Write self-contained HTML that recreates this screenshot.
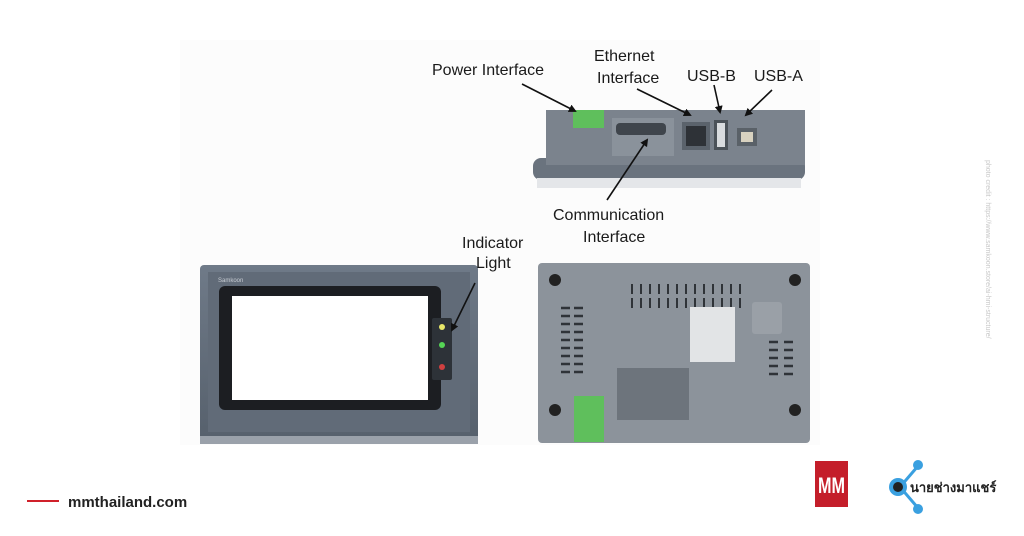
<!DOCTYPE html>
<html><head><meta charset="utf-8"><style>
html,body{margin:0;padding:0;background:#fff;}
svg{display:block}
text{font-family:"Liberation Sans",sans-serif;}
</style></head><body>
<svg width="1024" height="536" viewBox="0 0 1024 536" xmlns="http://www.w3.org/2000/svg">
<defs>
<marker id="ah" markerWidth="8" markerHeight="8" refX="6" refY="4" orient="auto" markerUnits="userSpaceOnUse"><path d="M0,0 L8,4 L0,8 z" fill="#111"/></marker>
<linearGradient id="bez" x1="0" y1="0" x2="0" y2="1"><stop offset="0" stop-color="#6f7a88"/><stop offset="1" stop-color="#56606c"/></linearGradient>
</defs>
<rect x="180" y="40" width="640" height="405" fill="#fcfcfc"/>
<!-- top device -->
<rect x="533" y="158" width="272" height="22" rx="8" fill="#6a737e"/>
<rect x="537" y="178" width="264" height="10" fill="#e4e6e9"/>
<rect x="546" y="110" width="222" height="55" fill="#7b838d"/>
<rect x="760" y="110" width="45" height="55" fill="#7b838d"/>
<rect x="612" y="118" width="62" height="38" fill="#8a929b"/>
<rect x="616" y="123" width="50" height="12" rx="4" fill="#3f454c"/>
<rect x="573" y="110" width="31" height="18" fill="#5fbf5c"/>
<rect x="682" y="122" width="28" height="28" fill="#5b636c"/>
<rect x="686" y="126" width="20" height="20" fill="#2e3237"/>
<rect x="714" y="120" width="14" height="30" fill="#4b5259"/>
<rect x="717" y="123" width="8" height="24" fill="#d9dcdf"/>
<rect x="737" y="128" width="20" height="18" fill="#5a6168"/>
<rect x="741" y="132" width="12" height="10" fill="#d8d2c0"/>
<!-- front panel -->
<rect x="200" y="265" width="278" height="178" rx="4" fill="url(#bez)"/>
<rect x="208" y="272" width="262" height="160" fill="#616b78"/>
<rect x="219" y="286" width="222" height="124" rx="6" fill="#1c1e22"/>
<rect x="232" y="296" width="196" height="104" fill="#ffffff"/>
<text x="218" y="282" font-size="6" fill="#c7ccd3">Samkoon</text>
<rect x="432" y="318" width="20" height="62" rx="2" fill="#2d3238"/>
<circle cx="442" cy="327" r="3" fill="#e8e86a"/>
<circle cx="442" cy="345" r="3" fill="#55d455"/>
<circle cx="442" cy="367" r="3" fill="#d04040"/>
<rect x="200" y="436" width="278" height="8" fill="#9aa1aa"/>
<!-- back panel -->
<rect x="538" y="263" width="272" height="180" rx="4" fill="#8c939b"/>
<circle cx="555" cy="280" r="6" fill="#222"/><circle cx="795" cy="280" r="6" fill="#222"/>
<circle cx="555" cy="410" r="6" fill="#222"/><circle cx="795" cy="410" r="6" fill="#222"/>
<g fill="#2f3338">
<rect x="631" y="284" width="2" height="10"/><rect x="640" y="284" width="2" height="10"/><rect x="649" y="284" width="2" height="10"/><rect x="658" y="284" width="2" height="10"/><rect x="667" y="284" width="2" height="10"/><rect x="676" y="284" width="2" height="10"/><rect x="685" y="284" width="2" height="10"/><rect x="694" y="284" width="2" height="10"/><rect x="703" y="284" width="2" height="10"/><rect x="712" y="284" width="2" height="10"/><rect x="721" y="284" width="2" height="10"/><rect x="730" y="284" width="2" height="10"/><rect x="739" y="284" width="2" height="10"/>
<rect x="631" y="298" width="2" height="10"/><rect x="640" y="298" width="2" height="10"/><rect x="649" y="298" width="2" height="10"/><rect x="658" y="298" width="2" height="10"/><rect x="667" y="298" width="2" height="10"/><rect x="676" y="298" width="2" height="10"/><rect x="685" y="298" width="2" height="10"/><rect x="694" y="298" width="2" height="10"/><rect x="703" y="298" width="2" height="10"/><rect x="712" y="298" width="2" height="10"/><rect x="721" y="298" width="2" height="10"/><rect x="730" y="298" width="2" height="10"/><rect x="739" y="298" width="2" height="10"/>
</g>
<g stroke="#2f3338" stroke-width="2.5">
<path d="M561 308h9M561 316h9M561 324h9M561 332h9M561 340h9M561 348h9M561 356h9M561 364h9M561 372h9"/>
<path d="M574 308h9M574 316h9M574 324h9M574 332h9M574 340h9M574 348h9M574 356h9M574 364h9M574 372h9"/>
<path d="M769 342h9M769 350h9M769 358h9M769 366h9M769 374h9M784 342h9M784 350h9M784 358h9M784 366h9M784 374h9"/>
</g>
<rect x="690" y="307" width="45" height="55" fill="#e2e4e6"/>
<rect x="752" y="302" width="30" height="32" rx="3" fill="#9aa0a7"/>
<rect x="617" y="368" width="72" height="52" fill="#6d747c"/>
<rect x="574" y="396" width="30" height="46" fill="#5fbf5c"/>
<!-- labels -->
<g font-size="16" fill="#1a1a1a">
<text x="432" y="75">Power Interface</text>
<text x="594" y="61">Ethernet</text>
<text x="597" y="83">Interface</text>
<text x="687" y="81">USB-B</text>
<text x="754" y="81">USB-A</text>
<text x="553" y="220">Communication</text>
<text x="583" y="242">Interface</text>
<text x="462" y="248">Indicator</text>
<text x="476" y="268">Light</text>
</g>
<g stroke="#111" stroke-width="1.6" marker-end="url(#ah)">
<line x1="522" y1="84" x2="575" y2="111"/>
<line x1="637" y1="89" x2="690" y2="115"/>
<line x1="714" y1="85" x2="720" y2="112"/>
<line x1="772" y1="90" x2="746" y2="115"/>
<line x1="607" y1="200" x2="647" y2="140"/>
<line x1="475" y1="283" x2="452" y2="330"/>
</g>
<text transform="translate(986,160) rotate(90)" font-size="7" fill="#c8c8c8">photo credit : https://www.samkoon.store/ai-hmi-structure/</text>
<!-- footer -->
<rect x="27" y="500" width="32" height="2" fill="#d0202a"/>
<text x="68" y="507" font-size="15" font-weight="bold" fill="#222">mmthailand.com</text>
<rect x="815" y="461" width="33" height="46" fill="#c41e2a"/>
<text x="818" y="493" font-size="22" font-weight="bold" fill="#fff" textLength="27" lengthAdjust="spacingAndGlyphs">MM</text>
<g stroke="#3aa0e0" stroke-width="3" fill="none">
<line x1="900" y1="487" x2="918" y2="466"/><line x1="900" y1="487" x2="918" y2="508"/>
</g>
<circle cx="918" cy="465" r="5" fill="#3aa0e0"/><circle cx="918" cy="509" r="5" fill="#3aa0e0"/>
<circle cx="898" cy="487" r="9" fill="#3aa0e0"/><circle cx="898" cy="487" r="5" fill="#222"/>
<text x="910" y="492" font-size="13" font-weight="bold" fill="#222" font-family="Liberation Sans, sans-serif">นายช่างมาแชร์</text>
</svg>
</body></html>
